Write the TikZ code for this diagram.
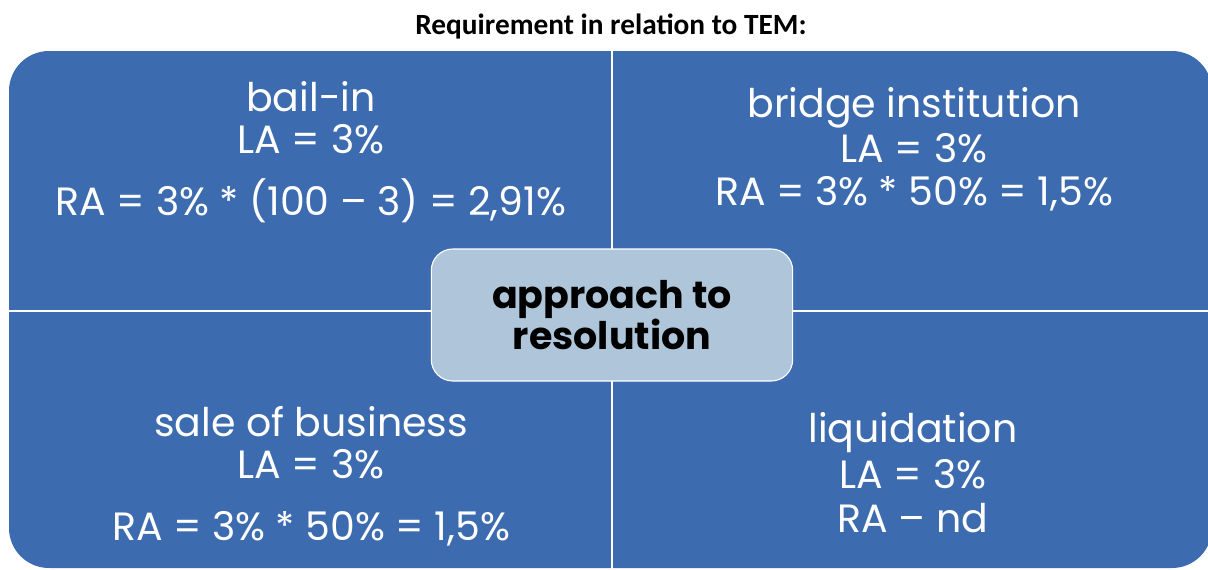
\documentclass[tikz,border=0pt]{standalone}
\usepackage{fontspec}
\setmainfont{Poppins}
\newfontfamily\titlefont{Carlito}
\usepackage{xcolor}
\usetikzlibrary{positioning}
\definecolor{quadblue}{RGB}{60, 107, 175}
\definecolor{centerblue}{RGB}{175, 198, 218}

\begin{document}
\begin{tikzpicture}[x=0.75pt, y=-0.75pt,
    quadtext/.style={anchor=base, text=white, inner sep=0pt, font=\fontsize{29.6}{34}\selectfont},
    hub/.style={rectangle, draw=white, line width=0.8pt, fill=centerblue, rounded corners=16pt, minimum width=271pt, minimum height=99pt, align=center, font=\fontsize{28.5}{30}\selectfont\bfseries},
    divider/.style={draw=white, line width=1.5pt}]
    \useasboundingbox (0,0) rectangle (1208,569);

    \node [anchor=base, inner sep=0pt, font=\titlefont\fontsize{22}{26}\selectfont\bfseries] (title) at (611,34) {Requirement in relation to TEM:};

    % matrix background
    \begin{scope}
        \clip (0,0) rectangle (1208,569);
        \fill [quadblue, rounded corners=30pt] (9,51) rectangle (1212,568);
    \end{scope}
    \coordinate (vtop) at (612,51);
    \coordinate (vbot) at (612,569);
    \coordinate (hleft) at (9,311);
    \coordinate (hright) at (1208,311);
    \path [divider] (vtop) -- (vbot);
    \path [divider] (hleft) -- (hright);

    % top left
    \node [quadtext] (bailin) at (311,111) {bail-in};
    \node [quadtext] (bailinla) at (311,153) {LA = 3\%};
    \node [quadtext] (bailinra) at (311,215) {RA = 3\% * (100 – 3) = 2,91\%};
    % top right
    \node [quadtext] (bridge) at (914,117) {bridge institution};
    \node [quadtext] (bridgela) at (914,162) {LA = 3\%};
    \node [quadtext] (bridgera) at (914,205) {RA = 3\% * 50\% = 1,5\%};
    % bottom left
    \node [quadtext] (sale) at (311,436) {sale of business};
    \node [quadtext] (salela) at (311,478) {LA = 3\%};
    \node [quadtext] (salera) at (311,540) {RA = 3\% * 50\% = 1,5\%};
    % bottom right
    \node [quadtext] (liq) at (913,442) {liquidation};
    \node [quadtext] (liqla) at (913,488) {LA = 3\%};
    \node [quadtext] (liqra) at (913,532) {RA – nd};

    \node [hub] (approach) at (612,315) {approach to\\[-1pt]resolution};
\end{tikzpicture}
\end{document}
